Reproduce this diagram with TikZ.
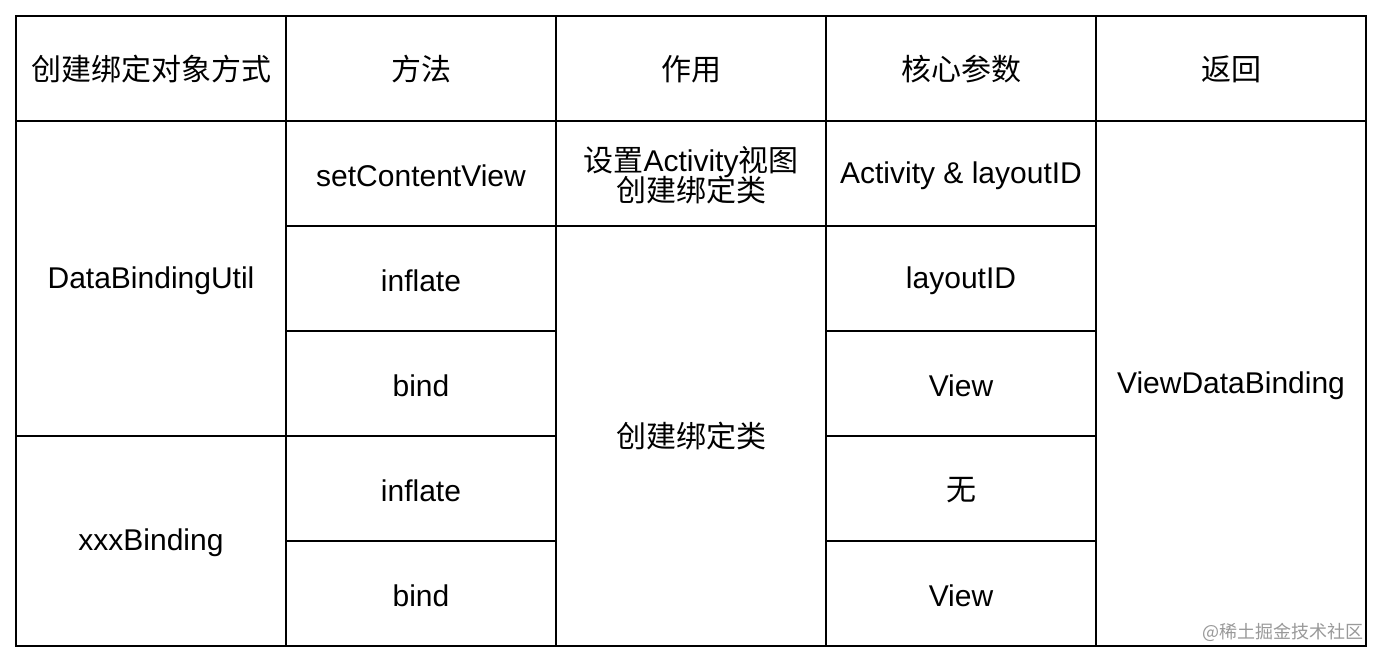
\documentclass[tikz,border=0pt]{standalone}
\usepackage{fontspec}
\setmainfont{Liberation Sans}
\newfontfamily\cjk{Noto Sans CJK SC}
\begin{document}
\begin{tikzpicture}[x=1pt,y=-1pt,
  cell/.style={font=\fontsize{30}{33}\selectfont,align=center,inner sep=0pt},
  grid/.style={line width=1.3pt,black}]
\useasboundingbox (0,0) rectangle (1382,662);
\fill[white] (0,0) rectangle (1382,662);
\draw[grid] (16,16) rectangle (1366,646);
\foreach \x in {286,556,826,1096} \draw[grid] (\x,16) -- (\x,646);
\draw[grid] (16,121) -- (1366,121);
\draw[grid] (286,226) -- (556,226);
\draw[grid] (286,331) -- (556,331);
\draw[grid] (286,436) -- (556,436);
\draw[grid] (286,541) -- (556,541);
\draw[grid] (556,226) -- (1096,226);
\draw[grid] (826,331) -- (1096,331);
\draw[grid] (826,436) -- (1096,436);
\draw[grid] (826,541) -- (1096,541);
\draw[grid] (16,436) -- (286,436);
\node[cell] (h1) at (151,69) {\cjk 创建绑定对象方式};
\node[cell] (h2) at (421,69) {\cjk 方法};
\node[cell] (h3) at (691,69) {\cjk 作用};
\node[cell] (h4) at (961,69) {\cjk 核心参数};
\node[cell] (h5) at (1231,69) {\cjk 返回};
\node[cell] (a1) at (151,281) {DataBindingUtil};
\node[cell] (a2) at (151,543) {xxxBinding};
\node[cell] (b1) at (421,176) {setContentView};
\node[cell] (b2) at (421,281) {inflate};
\node[cell] (b3) at (421,386) {bind};
\node[cell] (b4) at (421,491) {inflate};
\node[cell] (b5) at (421,596) {bind};
\node[cell,text depth=0pt] (c1) at (691,174) {{\cjk 设置}Activity{\cjk 视图}\\[-3pt]{\cjk 创建绑定类}};
\node[cell] (c2) at (691,436) {\cjk 创建绑定类};
\node[cell] (d1) at (961,176) {Activity \& layoutID};
\node[cell] (d2) at (961,281) {layoutID};
\node[cell] (d3) at (961,386) {View};
\node[cell] (d4) at (961,490) {\cjk 无};
\node[cell] (d5) at (961,596) {View};
\node[cell] (e1) at (1231,386) {ViewDataBinding};
\node[font=\cjk\fontsize{18}{20}\selectfont,text=black!40,anchor=east,inner sep=0pt] (wm) at (1364,632) {@稀土掘金技术社区};
\end{tikzpicture}
\end{document}
